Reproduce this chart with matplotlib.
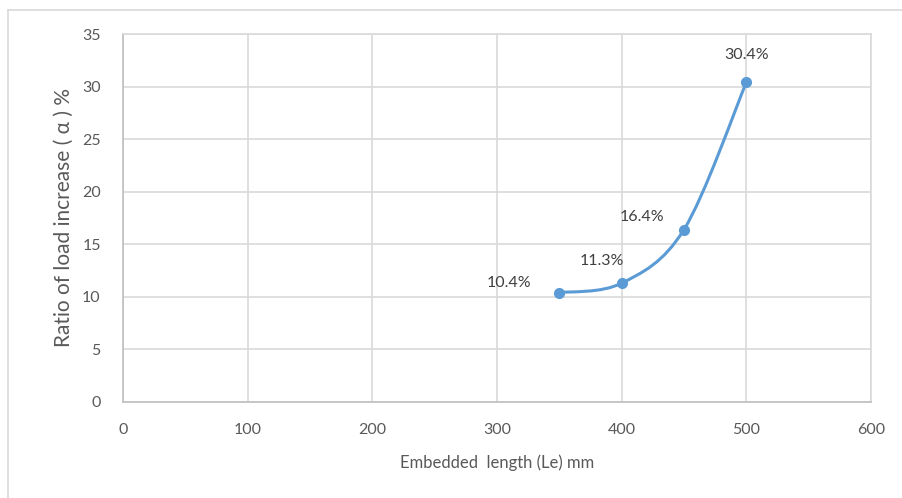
import numpy as np
import matplotlib
matplotlib.use("Agg")
import matplotlib.pyplot as plt
from matplotlib.path import Path
from matplotlib.patches import PathPatch

lengths = [350, 400, 450, 500]
ratios = [10.4, 11.3, 16.4, 30.4]
labels = ["10.4%", "11.3%", "16.4%", "30.4%"]
label_offsets = [(-36, 7), (-14, 16), (-30, 9), (0, 20)]

blue = "#5B9BD5"
grey_text = "#595959"
grid_col = "#D9D9D9"

plt.rcParams["font.family"] = ["Lato", "DejaVu Sans"]

fig = plt.figure(figsize=(9.02, 4.98), dpi=100)
ax = fig.add_axes([0.1364, 0.1928, 0.8292, 0.7389])

# excel-style smoothed line (cubic bezier through the points)
pts = np.column_stack([lengths, ratios]).astype(float)
verts = [pts[0]]
codes = [Path.MOVETO]
n = len(pts)
for i in range(n - 1):
    p0 = pts[max(i - 1, 0)]
    p1 = pts[i]
    p2 = pts[i + 1]
    p3 = pts[min(i + 2, n - 1)]
    c1 = p1 + (p2 - p0) / 6.0
    c2 = p2 - (p3 - p1) / 6.0
    verts += [c1, c2, p2]
    codes += [Path.CURVE4] * 3
ax.add_patch(PathPatch(Path(verts, codes), fill=False, edgecolor=blue, lw=2.2,
                       capstyle="round", zorder=3))
ax.plot(lengths, ratios, "o", color=blue, ms=7, zorder=4)

for x, y, t, off in zip(lengths, ratios, labels, label_offsets):
    ax.annotate(t, (x, y), xytext=off, textcoords="offset points",
                ha="center", va="center", fontsize=11.5, color="#404040")

ax.set_xlim(0, 600)
ax.set_ylim(0, 35)
ax.set_xticks(range(0, 601, 100))
ax.set_yticks(range(0, 36, 5))
ax.grid(True, color=grid_col, lw=1.2)
ax.set_axisbelow(True)
for s in ax.spines.values():
    s.set_color(grid_col)
    s.set_linewidth(1.2)
ax.spines["left"].set_color("#BFBFBF")
ax.spines["bottom"].set_color("#BFBFBF")
ax.tick_params(length=0, labelsize=11.5, colors=grey_text)
ax.tick_params(axis="y", pad=16)
ax.tick_params(axis="x", pad=15)
ax.set_xlabel("Embedded  length (Le) mm", fontsize=12, color=grey_text, labelpad=13)
ax.set_ylabel("Ratio of load increase ( α ) %", fontsize=15, color=grey_text, labelpad=6)

# chart border (only top and left visible in the crop)
fig.add_artist(plt.Line2D([8 / 902, 1], [1 - 10 / 498] * 2, color="#D9D9D9", lw=1.2,
                          transform=fig.transFigure))
fig.add_artist(plt.Line2D([8 / 902] * 2, [0, 1 - 10 / 498], color="#D9D9D9", lw=1.2,
                          transform=fig.transFigure))

fig.savefig("out.png", dpi=100)
